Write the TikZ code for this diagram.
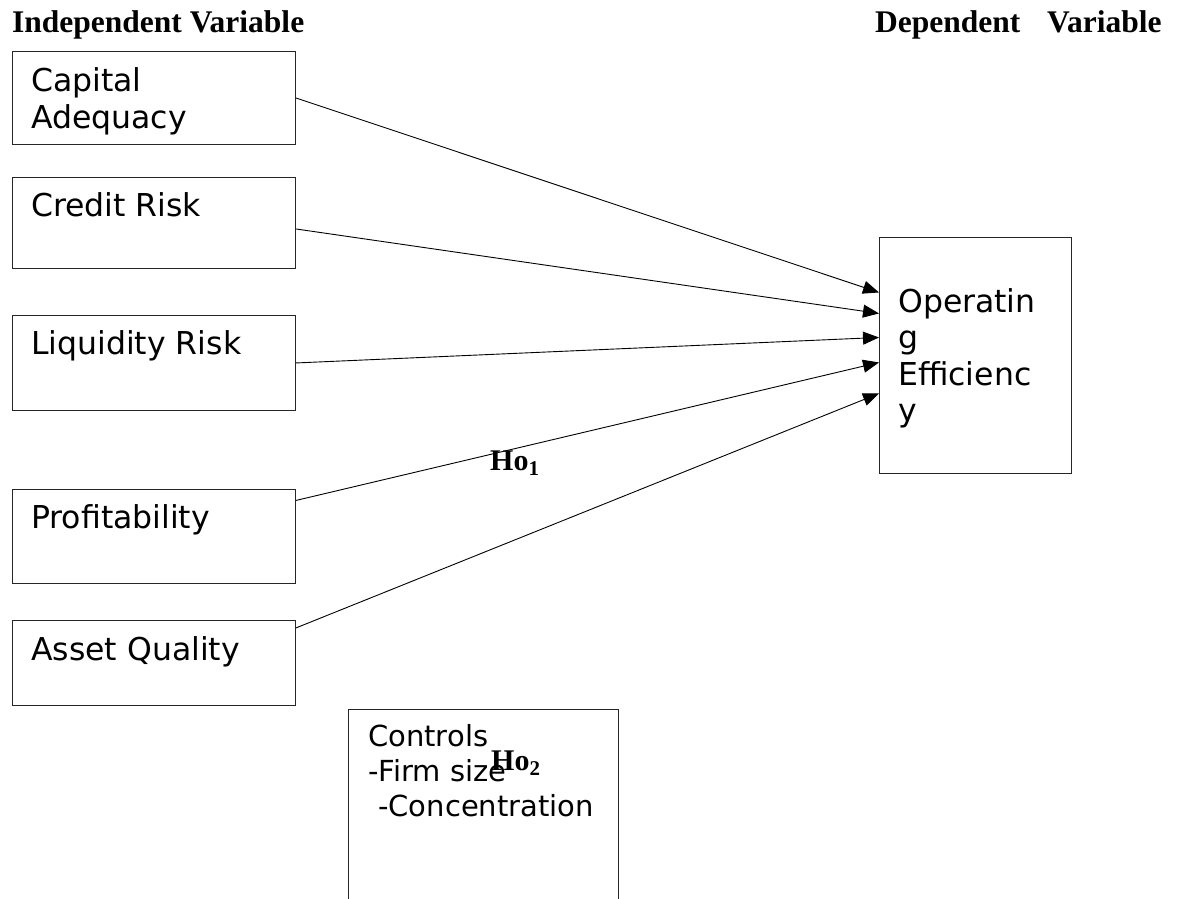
\documentclass[tikz,border=0pt]{standalone}
\usepackage{fontspec}
\setmainfont{Liberation Serif}
\newfontfamily\dv{DejaVu Sans}
\usetikzlibrary{arrows.meta,calc}
\begin{document}
\begin{tikzpicture}[x=1pt,y=-1pt,
  box/.style={draw=black!85,line width=0.9pt,inner sep=0pt,anchor=north west},
  lbl/.style={font=\dv\fontsize{31.5}{37}\selectfont,inner sep=0pt,anchor=base west},
  clbl/.style={font=\dv\fontsize{29}{35}\selectfont,inner sep=0pt,anchor=base west},
  head/.style={font=\bfseries\fontsize{31.5}{36}\selectfont,inner sep=0pt,anchor=base west},
  hyp/.style={font=\bfseries\fontsize{30}{34}\selectfont,inner sep=0pt,anchor=base west},
  conn/.style={line width=0.9pt,-{Triangle[length=16pt,width=13pt]}}]
\clip (0,0) rectangle (1177,898);
\node[head] (hi) at (12,32) {Independent Variable};
\node[head] (hd) at (875,32) {Dependent\hspace{0.6em} Variable};
% boxes
\node[box,minimum width=283pt,minimum height=93pt] (cap) at (12,51) {};
\node[box,minimum width=283pt,minimum height=91pt] (cr) at (12,177) {};
\node[box,minimum width=283pt,minimum height=95pt] (liq) at (12,315) {};
\node[box,minimum width=283pt,minimum height=94pt] (prof) at (12,489) {};
\node[box,minimum width=283pt,minimum height=85pt] (aq) at (12,620) {};
\node[box,minimum width=192pt,minimum height=236pt] (oe) at (879,237) {};
\node[box,minimum width=270pt,minimum height=220pt] (ctrl) at (348,709) {};
% labels
\node[lbl] (t1a) at (31,91) {Capital};
\node[lbl] (t1b) at (31,128) {Adequacy};
\node[lbl] (t2) at (31,216) {Credit Risk};
\node[lbl] (t3) at (31,354) {Liquidity Risk};
\node[lbl] (t4) at (31,528) {Profitability};
\node[lbl] (t5) at (31,660) {Asset Quality};
\node[lbl] (o1) at (898,312) {Operatin};
\node[lbl] (o2) at (898,348.5) {g};
\node[lbl] (o3) at (898,385) {Efficienc};
\node[lbl] (o4) at (898,421.5) {y};
\node[clbl] (c1) at (368,746) {Controls};
\node[clbl] (c2) at (368,781) {-Firm size};
\node[clbl] (c3) at (378,816) {-Concentration};
\node[hyp] (h1) at (490,470) {Ho\textsubscript{1}};
\node[hyp] (h2) at (491,770) {Ho\textsubscript{2}};
% connectors
\draw[conn] (cap.east) -- ([yshift=63pt]oe.west);
\draw[conn] ([yshift=-6pt]cr.east) -- ([yshift=42pt]oe.west);
\draw[conn] (liq.east) -- ([yshift=18pt]oe.west);
\draw[conn] ([yshift=36pt]prof.east) -- ([yshift=-7pt]oe.west);
\draw[conn] ([yshift=35pt]aq.east) -- ([yshift=-38pt]oe.west);
\end{tikzpicture}
\end{document}
